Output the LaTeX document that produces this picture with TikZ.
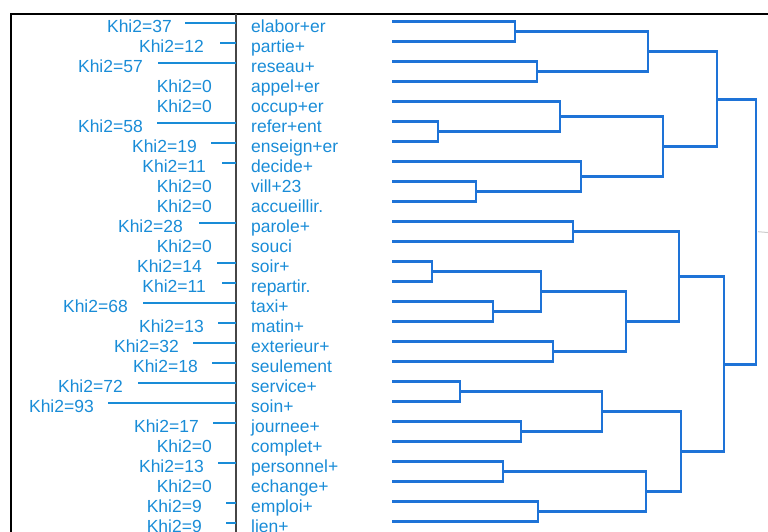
\documentclass[tikz,border=0pt]{standalone}
\usepackage{fontspec}
\setmainfont{Liberation Sans}
\usepackage{xcolor}
\definecolor{khiblue}{RGB}{25,140,215}
\definecolor{treeblue}{RGB}{30,115,215}
\definecolor{axisgray}{RGB}{70,70,70}
\tikzstyle{word}    = [anchor=base west, inner sep=0pt, text=khiblue, font=\fontsize{17.5}{20}\selectfont]
\tikzstyle{khi}     = [anchor=base east, inner sep=0pt, text=khiblue, font=\fontsize{17.5}{20}\selectfont]
\tikzstyle{khiline} = [draw=khiblue, line width=1.8pt]
\tikzstyle{branch}  = [draw=treeblue, line width=2.6pt]

\begin{document}
\begin{tikzpicture}[x=1pt, y=-1pt]
    \useasboundingbox (0,0) rectangle (768,531);
    % frame and axis
    \coordinate (fbl) at (11,533); \coordinate (ftl) at (11,14); \coordinate (ftr) at (770,14);
    \draw[line width=2pt] (fbl) -- (ftl) -- (ftr);
    \coordinate (at) at (236,14); \coordinate (ab) at (236,533);
    \draw[axisgray, line width=1.4pt] (at) -- (ab);
    % words, chi2 values and their bars
    \foreach \i/\w/\k/\tx/\lx in {0/elabor+er/37/172/185, 1/partie+/12/204/220, 2/reseau+/57/143/158,
            3/appel+er/0/212/236, 4/occup+er/0/212/236, 5/refer+ent/58/143/157,
            6/enseign+er/19/197/211, 7/decide+/11/206/222, 8/vill+23/0/212/236,
            9/accueillir./0/212/236, 10/parole+/28/183/199, 11/souci/0/212/236,
            12/soir+/14/202/217, 13/repartir./11/206/222, 14/taxi+/68/128/143,
            15/matin+/13/204/218, 16/exterieur+/32/179/193, 17/seulement/18/198/212,
            18/service+/72/123/138, 19/soin+/93/94/108, 20/journee+/17/199/213,
            21/complet+/0/212/236, 22/personnel+/13/204/218, 23/echange+/0/212/236,
            24/emploi+/9/202/226, 25/lien+/9/202/226}{
        \pgfmathsetmacro\yb{32.3+20*\i}
        \pgfmathsetmacro\yl{23.3+20*\i}
        \node (w\i) [word] at (251,\yb) {\w};
        \node (k\i) [khi] at (\tx,\yb) {Khi2=\k};
        \ifnum\k>0
            \coordinate (kl\i) at (\lx,\yl); \coordinate (kr\i) at (236,\yl);
            \draw[khiline] (kl\i) -- (kr\i);
        \fi
    }
    % dendrogram
    \foreach \i in {0,...,25} \coordinate (l\i) at (392,{21.7+20*\i});
    \coordinate (m0) at (515,31.7);   \coordinate (m1) at (537,71.7);
    \coordinate (m2) at (648,51.7);   \coordinate (m3) at (438,131.7);
    \coordinate (m4) at (560,116.7);  \coordinate (m5) at (476,191.7);
    \coordinate (m6) at (581,176.7);  \coordinate (m7) at (663,146.7);
    \coordinate (m8) at (717,99.2);   \coordinate (m9) at (573,231.7);
    \coordinate (m10) at (432,271.7); \coordinate (m11) at (493,311.7);
    \coordinate (m12) at (541,291.7); \coordinate (m13) at (553,351.7);
    \coordinate (m14) at (626,321.7); \coordinate (m15) at (679,276.7);
    \coordinate (m16) at (460,391.7); \coordinate (m17) at (521,431.7);
    \coordinate (m18) at (602,411.7); \coordinate (m19) at (503,471.7);
    \coordinate (m20) at (538,511.7); \coordinate (m21) at (646,491.7);
    \coordinate (m22) at (681,451.7); \coordinate (m23) at (724,364.2);
    \coordinate (m24) at (756,231.7); \coordinate (stub) at (770,232.7);
    \foreach \a/\m/\b in {l0/m0/l1, l2/m1/l3, m0/m2/m1, l5/m3/l6, l4/m4/m3,
            l8/m5/l9, l7/m6/m5, m4/m7/m6, m2/m8/m7, l10/m9/l11, l12/m10/l13,
            l14/m11/l15, m10/m12/m11, l16/m13/l17, m12/m14/m13, m9/m15/m14,
            l18/m16/l19, l20/m17/l21, m16/m18/m17, l22/m19/l23, l24/m20/l25,
            m19/m21/m20, m18/m22/m21, m15/m23/m22, m8/m24/m23}
        \draw[branch] (\a) -| (\m) |- (\b);
    \draw[gray!40, line width=1pt] ([xshift=2pt]m24) -- (stub);
\end{tikzpicture}
\end{document}
